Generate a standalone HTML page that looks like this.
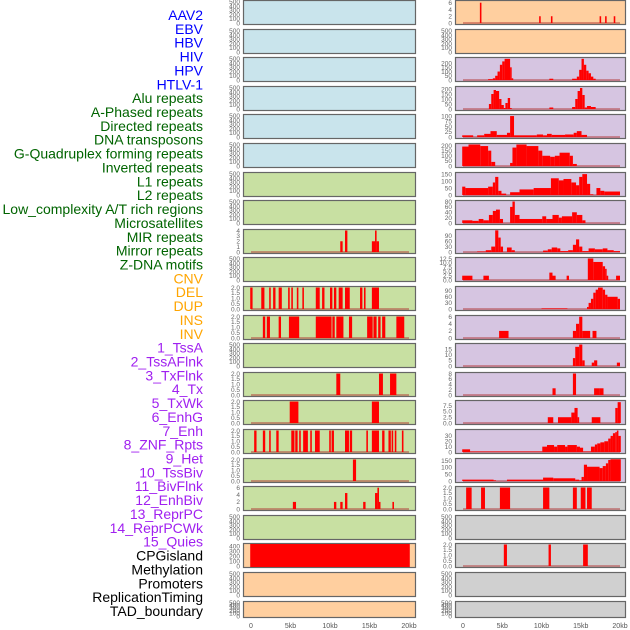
<!DOCTYPE html>
<html><head><meta charset="utf-8"><style>
body{margin:0;background:#fff;width:630px;height:630px;overflow:hidden}
svg{display:block;font-family:"Liberation Sans",sans-serif}
</style></head><body>
<svg id="chart" width="630" height="630" viewBox="0 0 630 630"></svg>
<script>
const rowLabels=["AAV2","EBV","HBV","HIV","HPV","HTLV-1","Alu repeats","A-Phased repeats","Directed repeats","DNA transposons","G-Quadruplex forming repeats","Inverted repeats","L1 repeats","L2 repeats","Low_complexity A/T rich regions","Microsatellites","MIR repeats","Mirror repeats","Z-DNA motifs","CNV","DEL","DUP","INS","INV","1_TssA","2_TssAFlnk","3_TxFlnk","4_Tx","5_TxWk","6_EnhG","7_Enh","8_ZNF_Rpts","9_Het","10_TssBiv","11_BivFlnk","12_EnhBiv","13_ReprPC","14_ReprPCWk","15_Quies","CPGisland","Methylation","Promoters","ReplicationTiming","TAD_boundary"];
const labelGroups=[6,13,5,15,5];
const groupColors=["#0000ff","#006400","#ffa500","#a020f0","#000000"];
const xTickLabels=["0","5kb","10kb","15kb","20kb"];
const xTickValues=[0,5,10,15,20];
const leftBg=["#c9e4ec","#c9e4ec","#c9e4ec","#c9e4ec","#c9e4ec","#c9e4ec","#c8e0a2","#c8e0a2","#c8e0a2","#c8e0a2","#c8e0a2","#c8e0a2","#c8e0a2","#c8e0a2","#c8e0a2","#c8e0a2","#c8e0a2","#c8e0a2","#c8e0a2","#ffcf9f","#ffcf9f","#ffcf9f"];
const rightBg=["#ffcf9f","#ffcf9f","#d6c5e1","#d6c5e1","#d6c5e1","#d6c5e1","#d6c5e1","#d6c5e1","#d6c5e1","#d6c5e1","#d6c5e1","#d6c5e1","#d6c5e1","#d6c5e1","#d6c5e1","#d6c5e1","#d6c5e1","#d0d0d0","#d0d0d0","#d0d0d0","#d0d0d0","#d0d0d0"];
const emptyTicks=[0,100,200,300,400,500];
const bin2Ticks=[0,0.5,1,1.5,2];
const r0=[[2.15,2.35,6],[9.7,9.9,2],[11.2,11.4,2],[17.4,17.6,2],[18.1,18.3,2],[19.2,19.4,2]];
const r2=[[3.2,3.8,10],[3.8,4.1,20],[4.1,4.4,50],[4.4,4.7,100],[4.7,5.0,180],[5.0,5.3,220],[5.3,6.0,250],[6.0,6.2,150],[6.2,6.4,20],[11,11.5,15],[13.9,14.5,15],[14.5,14.8,40],[14.8,15.1,120],[15.1,15.4,250],[15.4,15.7,180],[15.7,16.0,110],[16.0,16.3,80],[16.3,16.6,40],[16.6,16.9,15]];
const r3=[[3.3,3.6,50],[3.6,3.9,150],[3.9,4.2,190],[4.2,4.6,180],[4.6,4.9,100],[4.9,5.2,40],[5.2,5.4,10],[5.4,5.7,60],[5.7,6.0,110],[6.0,6.2,10],[11,11.5,15],[13.9,14.3,20],[14.3,14.6,100],[14.6,14.9,180],[14.9,15.2,210],[15.2,15.5,140],[15.5,15.8,15],[15.8,16.3,30],[16.3,16.9,20]];
const r4=[[-0.1,1.3,8],[1.8,2.7,8],[2.7,3.5,15],[3.5,4.3,28],[4.3,5.6,10],[5.6,6.0,20],[6.0,6.5,100],[6.5,9.4,8],[9.4,10.2,12],[10.2,10.7,8],[10.7,11.3,15],[11.3,13.0,10],[13.0,14.1,12],[14.1,14.5,20],[14.5,15.1,28],[15.1,15.8,10]];
const r5=[[-0.1,0.7,190],[0.7,2.2,210],[2.2,3.2,195],[3.2,3.6,150],[3.6,4.1,40],[6.0,6.3,30],[6.3,6.8,180],[6.8,8.1,210],[8.1,9.6,195],[9.6,10.1,150],[10.1,11.1,100],[11.1,11.7,90],[11.7,12.3,100],[12.3,13.6,130],[13.6,14.0,100],[14.0,14.5,20]];
const r6=[[-0.1,0.3,60],[0.3,3.2,50],[3.2,3.8,60],[3.8,4.1,90],[4.1,4.5,130],[4.5,4.9,30],[4.9,5.5,10],[6.0,7.2,20],[7.2,9.0,40],[9.0,11.2,50],[11.2,12.2,120],[12.2,12.8,105],[12.8,13.8,115],[13.8,14.4,90],[14.4,14.8,70],[14.8,15.2,130],[15.2,15.8,150],[15.8,16.2,80],[16.2,16.6,5],[17.0,17.5,50],[17.5,18.0,30],[18.0,20.0,25]];
const r7=[[-0.1,1.2,10],[1.2,2.0,8],[2.0,2.6,15],[2.6,3.3,10],[3.3,3.8,30],[3.8,4.2,45],[4.2,4.7,50],[4.7,5.1,15],[6.0,6.3,60],[6.3,6.6,80],[6.6,7.2,30],[7.2,10.1,15],[10.1,10.6,25],[10.6,11.4,15],[11.4,12.2,30],[12.2,12.6,20],[12.6,13.9,25],[13.9,14.5,40],[14.5,15.2,30],[15.2,15.6,10]];
const r8=[[1.8,2.9,3],[2.9,3.6,10],[3.6,4.1,30],[4.1,4.5,120],[4.5,4.8,80],[4.8,5.1,30],[5.6,6.2,25],[6.2,6.6,10],[10.2,10.8,8],[10.8,11.3,15],[11.3,12.0,25],[12.0,12.4,20],[12.4,13.4,5],[13.4,14.0,10],[14.0,14.4,40],[14.4,14.8,70],[14.8,15.2,30],[15.2,16.0,5],[16.0,16.8,20],[16.8,17.8,15],[17.8,18.4,20],[18.4,19.2,10],[19.2,20,5]];
const r9=[[-0.1,1.2,2.5],[2.6,3.3,2.5],[11.0,11.4,4.3],[11.4,11.8,2.5],[13.2,13.5,2.5],[15.9,16.6,12.5],[16.6,17.8,10.5],[17.8,18.1,8],[18.1,18.3,6.5],[18.3,18.5,2.5],[19.5,20.0,2.5]];
const r10=[[10,13.3,3],[15.8,16.0,10],[16.0,16.3,30],[16.3,16.6,50],[16.6,16.9,80],[16.9,17.2,95],[17.2,17.8,105],[17.8,18.1,95],[18.1,18.4,70],[18.4,19.7,60],[19.7,20,50]];
const r11=[[4.6,5.8,2],[14.0,14.4,2],[14.4,14.8,4],[14.8,15.2,6],[15.2,16.2,2],[16.5,17.0,2]];
const r12=[[14.0,14.3,7],[14.3,14.8,17],[14.8,15.2,19],[15.2,15.5,5],[16.4,16.7,3],[16.7,17.1,5],[19.6,20.0,3]];
const r13=[[11.4,11.8,2.5],[14.0,14.4,8],[16.7,17.4,2.5],[17.4,17.9,2.5]];
const r14=[[10.8,11.5,2.5],[12.1,13.8,2.5],[13.8,14.2,4.5],[14.2,14.6,6.5],[14.6,14.8,2.5],[16.4,17.5,2.5],[19.4,19.7,6.5],[19.7,20.1,9]];
const r15=[[-0.1,0.9,5],[0.9,10.1,1],[10.1,10.7,10],[10.7,11.6,13],[11.6,12.0,10],[12.0,13.0,13],[13.0,13.3,10],[13.3,14.5,13],[14.5,14.9,10],[14.9,15.3,8],[15.3,16.3,1],[16.3,16.8,10],[16.8,17.1,14],[17.1,17.5,16],[17.5,18.0,18],[18.0,18.5,20],[18.5,18.8,25],[18.8,19.1,30],[19.1,19.4,35],[19.4,19.6,37],[19.6,19.8,40],[19.8,20.1,30]];
const r16=[[-0.1,3.9,10],[3.9,4.2,5],[5.6,10.2,10],[10.2,11.5,25],[11.5,14.3,20],[14.3,14.8,10],[14.8,15.1,5],[15.1,15.4,30],[15.4,15.8,120],[15.8,17.4,105],[17.4,17.8,95],[17.8,18.2,110],[18.2,18.5,130],[18.5,18.8,155],[18.8,20.1,160]];
const r17=[[0.4,1.1,2],[2.3,2.8,2],[4.7,6.0,2],[10.2,11.0,2],[14.0,14.5,2],[15.0,15.6,2],[15.8,16.4,2]];
const r19=[[5.2,5.6,2],[10.9,11.2,2],[15.3,15.9,2]];
const l8=[[11.3,11.6,2],[11.9,12.2,4],[15.3,15.7,2],[15.7,15.9,4],[15.9,16.2,2]];
const l10=[[-0.1,0.2,2],[1.3,1.7,2],[2.3,2.5,2],[2.8,3.1,2],[3.5,3.9,2],[4.7,4.9,2],[5.1,5.3,2],[5.8,6.0,2],[6.5,6.7,2],[8.2,8.7,2],[9.0,9.3,2],[10.0,10.3,2],[10.5,10.8,2],[11.1,11.6,2],[11.9,12.5,2],[13.8,14.1,2],[14.3,14.5,2],[15.3,16.2,2]];
const l11=[[1.5,1.8,2],[2.0,2.4,2],[3.5,3.8,2],[4.8,6.1,2],[8.2,10.2,2],[10.3,10.6,2],[10.8,11.7,2],[12.4,12.8,2],[14.7,15.4,2],[15.5,15.9,2],[16.1,16.4,2],[16.6,17.0,2],[18.4,19.4,2]];
const l13=[[10.8,11.3,2],[16.2,16.7,2],[17.6,18.4,2]];
const l14=[[4.9,6.0,2],[15.3,16.2,2]];
const l15=[[0.4,0.7,2],[1.5,1.8,2],[2.3,2.5,2],[3.2,3.5,2],[5.1,5.5,2],[5.6,5.9,2],[6.1,6.3,2],[6.6,7.2,2],[7.5,7.7,2],[8.1,8.7,2],[9.9,10.1,2],[10.2,10.5,2],[11.9,12.4,2],[12.5,12.8,2],[14.6,14.8,2],[15.3,16.2,2],[16.6,16.9,2],[17.4,17.7,2],[17.8,18.0,2],[18.2,18.4,2],[19.1,19.3,2]];
const l16=[[12.9,13.3,2]];
const l17=[[5.3,5.7,2],[10.5,10.8,2],[11.3,11.6,2],[11.9,12.2,4.5],[14.2,14.5,2],[15.7,16.0,4.5],[16.0,16.2,6],[16.2,16.3,2],[17.9,18.1,2]];
const l19=[[-0.1,20.1,450]];

const panels=[
 {side:'R',row:0,segs:r0,ticks:[0,2,4,6],ymax:6.5},
 {side:'R',row:2,segs:r2,ticks:[0,50,100,150,200],ymax:260},
 {side:'R',row:3,segs:r3,ticks:[0,50,100,150,200],ymax:220},
 {side:'R',row:4,segs:r4,ticks:[0,25,50,75,100],ymax:105},
 {side:'R',row:5,segs:r5,ticks:[0,50,100,150,200],ymax:215},
 {side:'R',row:6,segs:r6,ticks:[0,50,100,150],ymax:158},
 {side:'R',row:7,segs:r7,ticks:[0,20,40,60,80],ymax:82},
 {side:'R',row:8,segs:r8,ticks:[0,30,60,90],ymax:122},
 {side:'R',row:9,segs:r9,ticks:[0,2.5,5,7.5,10,12.5],ymax:12.8,fx:1},
 {side:'R',row:10,segs:r10,ticks:[0,30,60,90],ymax:108},
 {side:'R',row:11,segs:r11,ticks:[0,2,4,6],ymax:6.2},
 {side:'R',row:12,segs:r12,ticks:[0,5,10,15],ymax:19.5},
 {side:'R',row:13,segs:r13,ticks:[0,2,4,6,8],ymax:8.2},
 {side:'R',row:14,segs:r14,ticks:[0,2.5,5,7.5],ymax:9.5,fx:1},
 {side:'R',row:15,segs:r15,ticks:[0,10,20,30],ymax:41},
 {side:'R',row:16,segs:r16,ticks:[0,50,100,150],ymax:162},
 {side:'R',row:17,segs:r17,ticks:bin2Ticks,ymax:2.05,fx:1},
 {side:'R',row:19,segs:r19,ticks:bin2Ticks,ymax:2.05,fx:1},
 {side:'L',row:8,segs:l8,ticks:[0,1,2,3,4],ymax:4.1},
 {side:'L',row:10,segs:l10,ticks:bin2Ticks,ymax:2.05,fx:1},
 {side:'L',row:11,segs:l11,ticks:bin2Ticks,ymax:2.05,fx:1},
 {side:'L',row:13,segs:l13,ticks:bin2Ticks,ymax:2.05,fx:1},
 {side:'L',row:14,segs:l14,ticks:bin2Ticks,ymax:2.05,fx:1},
 {side:'L',row:15,segs:l15,ticks:bin2Ticks,ymax:2.05,fx:1},
 {side:'L',row:16,segs:l16,ticks:bin2Ticks,ymax:2.05,fx:1},
 {side:'L',row:17,segs:l17,ticks:[0,2,4,6],ymax:6.2},
 {side:'L',row:19,segs:l19,ticks:[0,100,200,300,400],ymax:450,noBase:1}
];

const NS='http://www.w3.org/2000/svg';
const svg=document.getElementById('chart');
function mk(tag,attrs,parent){const e=document.createElementNS(NS,tag);for(const k in attrs)e.setAttribute(k,attrs[k]);(parent||svg).appendChild(e);return e;}
const geo={L:{x0:243,x1:416,z:251,k:7.9},R:{x0:455,x1:626,z:463,k:7.85}};
function xs(side,kb){return geo[side].z+kb*geo[side].k;}
function rowTop(r){return r===0?0:Math.round(r*28.6);}
function rowH(r){return r===21?17:25;}
function ys(p,v){const t=rowTop(p.row),h=rowH(p.row);return (t+h-2)-(v/p.ymax)*(h-3);}

let gi=0,cnt=0;
rowLabels.forEach((lab,i)=>{
  while(cnt>=labelGroups[gi]){cnt-=labelGroups[gi];gi++;}
  const t=mk('text',{x:203,y:15+i*13.86+5,'text-anchor':'end','font-size':'14px',fill:groupColors[gi]});
  t.textContent=lab;
  
  
  cnt++;
});

for(let r=0;r<22;r++){
  ['L','R'].forEach(side=>{
    const g=geo[side];
    const p=panels.find(q=>q.side===side&&q.row===r);
    const rect=mk('rect',{x:g.x0+0.5,y:rowTop(r)+0.5,width:g.x1-g.x0-1,height:rowH(r)-1,fill:(side==='L'?leftBg:rightBg)[r],stroke:'#666','stroke-width':1.2});
    
    
    const pp=p||{row:r,ticks:emptyTicks,ymax:520,segs:[],noBase:1};
    pp.ticks.forEach(v=>{
      const t=mk('text',{x:g.x0-3,y:ys(pp,v)+2.3,'text-anchor':'end','font-size':'6.5px',fill:'#666'});
      t.textContent=pp.fx?v.toFixed(1):String(v);
      
      
    });
    if(!pp.noBase){
      const bl=mk('line',{x1:xs(side,0),x2:xs(side,20),y1:ys(pp,0),y2:ys(pp,0),stroke:'#b03030','stroke-opacity':0.6,'stroke-width':1.5});
      
      
    }
    pp.segs.forEach(s=>{
      const x0=xs(side,s[0]),x1=xs(side,s[1]);
      const w=Math.max(1.5,x1-x0);
      const yv=ys(pp,s[2]),y0=ys(pp,0);
      const b=mk('rect',{x:x0,y:yv,width:w,height:y0-yv+(pp.noBase?1:0),fill:'#ff0000'});
      
      
    });
  });
}
['L','R'].forEach(side=>{
  xTickValues.forEach((v,i)=>{
    const t=mk('text',{x:xs(side,v),y:628,'text-anchor':'middle','font-size':'7px',fill:'#555'});
    t.textContent=xTickLabels[i];
    
    
  });
});
</script>
</body></html>
